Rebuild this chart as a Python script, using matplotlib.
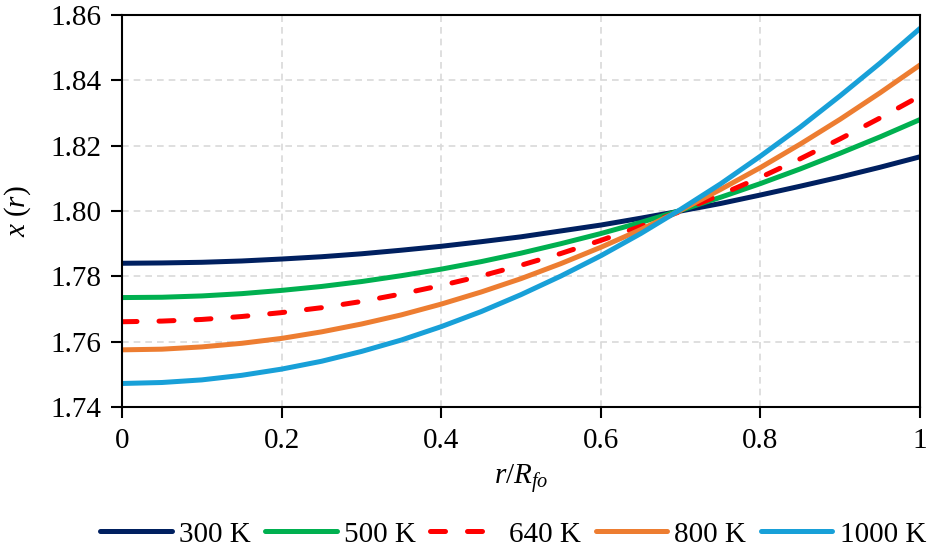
import matplotlib
matplotlib.use("Agg")
import matplotlib.pyplot as plt

plt.rcParams['font.family'] = 'Liberation Serif'
plt.rcParams['mathtext.fontset'] = 'custom'
plt.rcParams['mathtext.rm'] = 'Liberation Serif'
plt.rcParams['mathtext.it'] = 'Liberation Serif:italic'

# r/R_fo positions and x(r)
r = [0.00, 0.05, 0.10, 0.15, 0.20, 0.25, 0.30, 0.35, 0.40, 0.45, 0.50,
     0.55, 0.60, 0.65, 0.70, 0.75, 0.80, 0.85, 0.90, 0.95, 1.00]

x_300 = [1.7840, 1.7841, 1.7843, 1.7847, 1.7853, 1.7860, 1.7869, 1.7880, 1.7892, 1.7906, 1.7921,
         1.7939, 1.7957, 1.7978, 1.8000, 1.8023, 1.8049, 1.8076, 1.8104, 1.8134, 1.8166]
x_500 = [1.7735, 1.7736, 1.7740, 1.7747, 1.7757, 1.7769, 1.7784, 1.7802, 1.7822, 1.7845, 1.7871,
         1.7900, 1.7931, 1.7965, 1.8002, 1.8042, 1.8084, 1.8129, 1.8177, 1.8227, 1.8280]
x_640 = [1.7661, 1.7663, 1.7668, 1.7677, 1.7689, 1.7704, 1.7723, 1.7746, 1.7772, 1.7801, 1.7834,
         1.7870, 1.7910, 1.7953, 1.7999, 1.8050, 1.8103, 1.8160, 1.8221, 1.8285, 1.8352]
x_800 = [1.7575, 1.7577, 1.7584, 1.7595, 1.7610, 1.7630, 1.7654, 1.7682, 1.7715, 1.7752, 1.7793,
         1.7839, 1.7889, 1.7943, 1.8002, 1.8066, 1.8133, 1.8205, 1.8281, 1.8362, 1.8447]
x_1000 = [1.7472, 1.7475, 1.7483, 1.7497, 1.7516, 1.7540, 1.7570, 1.7605, 1.7646, 1.7692, 1.7744,
          1.7801, 1.7863, 1.7931, 1.8005, 1.8083, 1.8168, 1.8257, 1.8353, 1.8453, 1.8559]

labels = ['300 K', '500 K', '640 K', '800 K', '1000 K']
cores = ['#002060', '#00B050', '#FF0000', '#ED7D31', '#18A0D8']
estilos = ['-', '-', (0, (3.0, 4.4)), '-', '-']

fig = plt.figure(figsize=(9.27, 5.48), dpi=100)
ax = fig.add_axes([0.1316, 0.2573, 0.8609, 0.7153])

for serie, lab, cor, ls in zip([x_300, x_500, x_640, x_800, x_1000], labels, cores, estilos):
    ax.plot(r, serie, color=cor, linestyle=ls, linewidth=3.6, label=lab, solid_capstyle='round',
            dash_capstyle='round')

ax.set_xlim(0, 1)
ax.set_ylim(1.74, 1.86)
ax.set_xticks([0, 0.2, 0.4, 0.6, 0.8, 1])
ax.set_xticklabels(['0', '0.2', '0.4', '0.6', '0.8', '1'])
ax.set_yticks([1.74, 1.76, 1.78, 1.80, 1.82, 1.84, 1.86])
ax.set_yticklabels(['1.74', '1.76', '1.78', '1.80', '1.82', '1.84', '1.86'])
ax.tick_params(labelsize=21, direction='out', length=8, width=1.5, pad=7)
ax.grid(True, color='#D9D9D9', linestyle=(0, (4, 3)), linewidth=1.2)
ax.set_axisbelow(True)
for s in ax.spines.values():
    s.set_linewidth(1.5)
    s.set_color('black')

ax.set_xlabel('$r/R_{fo}$', fontsize=21, labelpad=6)
ax.set_ylabel('$x\\ (r)$', fontsize=21, labelpad=12)

ax.legend(loc='center', bbox_to_anchor=(0.490, -0.325), ncol=5, frameon=False, fontsize=21,
          handlelength=2.45, handletextpad=0.25, columnspacing=0.5, borderaxespad=0)

fig.savefig('out.png', dpi=100)
